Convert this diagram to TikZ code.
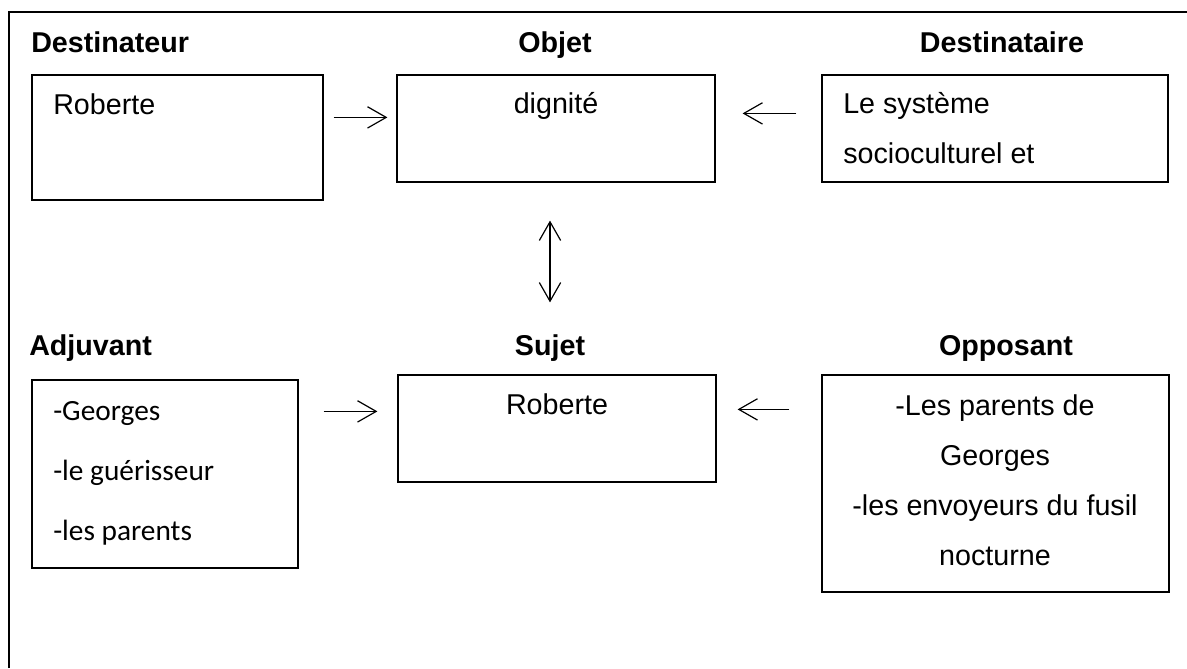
\documentclass[tikz,border=0pt]{standalone}
\usepackage{fontspec}
\setmainfont{Liberation Sans}
\newfontfamily\calibriFont{Carlito}
\usetikzlibrary{arrows.meta,fit}
\tikzstyle{diagram} = [x = .75pt, y = -.75pt, >={Straight Barb[length=14pt,width=16pt]}]
\tikzstyle{boxStyle} = [draw=black, line width=.9pt, inner sep=0pt]
\tikzstyle{titleText} = [font=\fontsize{21.5}{26}\selectfont\bfseries, inner sep=0pt]
\tikzstyle{boxText} = [font=\fontsize{21.5}{37.5}\selectfont, inner sep=0pt]
\tikzstyle{listText} = [font=\calibriFont\fontsize{22}{45}\selectfont, inner sep=0pt]
\tikzstyle{arrowStyle} = [line width=.9pt, ->]
\newcommand{\actantBox}[5]{\node [boxStyle, fit={(#2,#3) (#4,#5)}] (#1) {};}

\begin{document}
\begin{tikzpicture}[diagram]
  \useasboundingbox (0,0) rectangle (1187,668);
  % cadre
  \draw [line width=.9pt] (9,668) -- (9,12) -- (1187,12);

  % ligne du haut
  \node [titleText, anchor=base west] (destTitle) at (31,52) {Destinateur};
  \node [titleText, anchor=base] (objTitle) at (555,52) {Objet};
  \node [titleText, anchor=base] (dtTitle) at (1002,52) {Destinataire};
  \actantBox{destBox}{32}{75}{323}{200}
  \actantBox{objBox}{397}{75}{715}{182}
  \actantBox{dtBox}{822}{75}{1168}{182}
  \node [boxText, anchor=base west] (destText) at (53,114) {Roberte};
  \node [boxText, anchor=base] (objText) at (556,113) {dignité};
  % base = derniere ligne
  \node [boxText, anchor=base west, align=left] (dtText) at (843,163) {Le système\\socioculturel et};

  % ligne du bas
  \node [titleText, anchor=base west] (adjTitle) at (29,355) {Adjuvant};
  \node [titleText, anchor=base] (sujTitle) at (550,355) {Sujet};
  \node [titleText, anchor=base] (oppTitle) at (1006,355) {Opposant};
  \actantBox{adjBox}{32}{380}{298}{568}
  \actantBox{sujBox}{398}{375}{716}{482}
  \actantBox{oppBox}{822}{375}{1169}{592}
  \node [listText, anchor=base west, align=left] (adjText) at (53,540) {-Georges\\-le guérisseur\\-les parents};
  \node [boxText, anchor=base] (sujText) at (557,414) {Roberte};
  \node [boxText, anchor=base, align=center] (oppText) at (995,565) {-Les parents de\\Georges\\-les envoyeurs du fusil\\nocturne};

  % fleches
  \draw [arrowStyle] ([xshift=7.5pt, yshift=-32.25pt]destBox.north east) -- ([xshift=-6.75pt, yshift=-32.25pt]objBox.north west);
  \draw [arrowStyle] ([xshift=-18.75pt, yshift=-29.25pt]dtBox.north west) -- ([xshift=20.25pt, yshift=-29.25pt]objBox.north east);
  \draw [arrowStyle, <->] ([xshift=-4.5pt, yshift=-28.5pt]objBox.south) -- ([xshift=-5.25pt, yshift=54pt]sujBox.north);
  \draw [arrowStyle] ([xshift=18.75pt, yshift=-24pt]adjBox.north east) -- ([xshift=-15pt, yshift=-27.75pt]sujBox.north west);
  \draw [arrowStyle] ([xshift=-24pt, yshift=-26.25pt]oppBox.north west) -- ([xshift=15.75pt, yshift=-26.25pt]sujBox.north east);
\end{tikzpicture}
\end{document}
